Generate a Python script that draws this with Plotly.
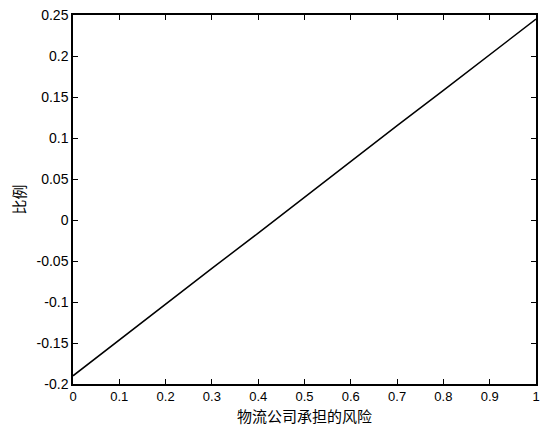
import plotly.graph_objects as go

# Data
x_vals = [0, 0.1, 0.2, 0.3, 0.4, 0.5, 0.6, 0.7, 0.8, 0.9, 1.0]
y_vals = [-0.19, -0.146, -0.103, -0.059, -0.016, 0.028, 0.071, 0.115, 0.158, 0.202, 0.245]

x_ticks = [0, 0.1, 0.2, 0.3, 0.4, 0.5, 0.6, 0.7, 0.8, 0.9, 1.0]
x_tick_labels = ["0", "0.1", "0.2", "0.3", "0.4", "0.5", "0.6", "0.7", "0.8", "0.9", "1"]
y_ticks = [-0.2, -0.15, -0.1, -0.05, 0, 0.05, 0.1, 0.15, 0.2, 0.25]
y_tick_labels = ["-0.2", "-0.15", "-0.1", "-0.05", "0", "0.05", "0.1", "0.15", "0.2", "0.25"]

x_title = "物流公司承担的风险"
y_title = "比例"

font_main = "Liberation Sans, Arial, sans-serif"
font_cjk = "Noto Sans CJK SC, sans-serif"

fig = go.Figure()
fig.add_trace(go.Scatter(x=x_vals, y=y_vals, mode="lines",
                         line=dict(color="black", width=1.5), showlegend=False))

axis_common = dict(showline=True, linecolor="black", linewidth=1.5, mirror="ticks",
                   ticks="inside", ticklen=5, tickcolor="black", tickwidth=1,
                   showgrid=False, zeroline=False)

fig.update_layout(
    width=546, height=426,
    margin=dict(l=73, r=6, t=15, b=42),
    paper_bgcolor="white", plot_bgcolor="white",
    xaxis=dict(range=[0, 1], tickvals=x_ticks, ticktext=x_tick_labels, ticklabelstandoff=0,
               tickfont=dict(family=font_main, size=13, color="black"), **axis_common),
    yaxis=dict(range=[-0.2, 0.25], tickvals=y_ticks, ticktext=y_tick_labels,
               tickfont=dict(family=font_main, size=14, color="black"), **axis_common),
    annotations=[
        dict(text=x_title, xref="paper", yref="paper", x=0.5, y=0, yshift=-31,
             xanchor="center", yanchor="middle", showarrow=False,
             font=dict(family=font_cjk, size=15, color="black")),
        dict(text=y_title, xref="paper", yref="paper", x=0, y=0.5, xshift=-55,
             xanchor="center", yanchor="middle", showarrow=False, textangle=-90,
             font=dict(family=font_cjk, size=15, color="black")),
    ],
)

fig.write_html("out.html")
